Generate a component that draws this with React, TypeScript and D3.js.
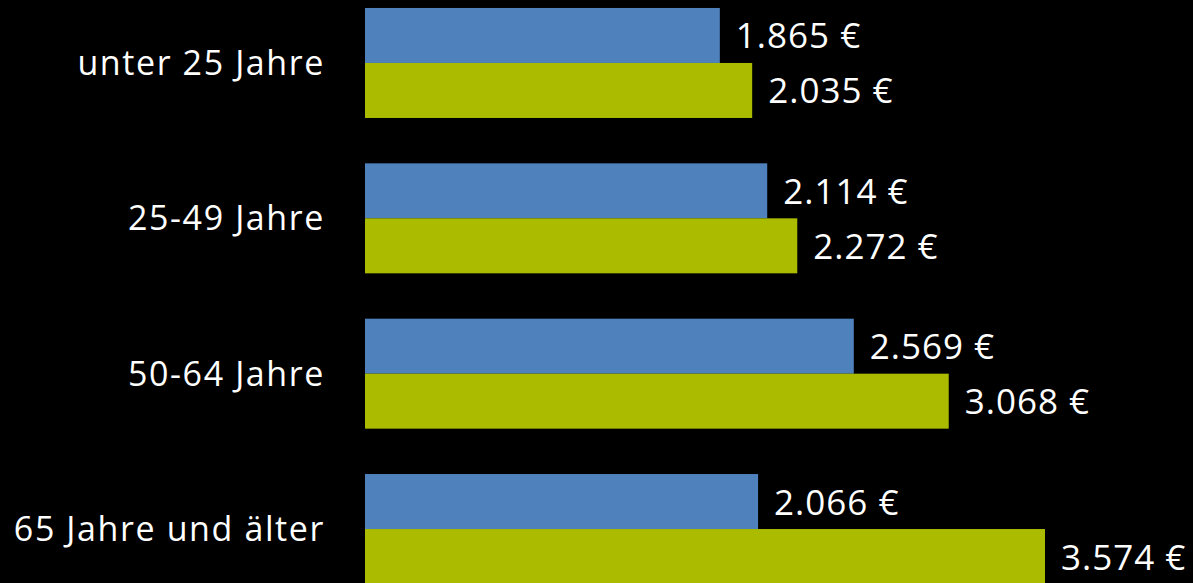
import React from 'react';
import * as d3 from 'd3';

const categories = ['unter 25 Jahre', '25-49 Jahre', '50-64 Jahre', '65 Jahre und älter'];
const seriesA = [1865, 2114, 2569, 2066];
const seriesB = [2035, 2272, 3068, 3574];
const seriesKeys = ['a', 'b'];

const W = 1193;
const H = 583;

export default function App() {
  const x = d3.scaleLinear().domain([0, 3574]).range([365, 1045]);
  const y = d3
    .scaleBand<string>()
    .domain(categories)
    .range([-14.7, 606.7])
    .paddingInner(0.292)
    .paddingOuter(0.146);
  const sub = d3.scaleBand<string>().domain(seriesKeys).range([0, y.bandwidth()]);
  const colors: Record<string, string> = { a: '#4F81BD', b: '#AABB00' };
  const fmt = (v: number) => d3.format(',')(v).replace(',', '.') + ' €';

  return (
    <div style={{ position: 'fixed', left: 0, top: 0, width: W, height: H, background: '#000' }}>
      <svg width={W} height={H} style={{ display: 'block', fontFamily: '"Open Sans", sans-serif' }}>
        {categories.map((cat, i) => {
          const y0 = y(cat) as number;
          const vals: Record<string, number> = { a: seriesA[i], b: seriesB[i] };
          return (
            <g key={cat}>
              <text
                x={325}
                y={y0 + y.bandwidth() / 2 + 12}
                textAnchor="end"
                fill="#fff"
                fontSize={34}
                letterSpacing={1.6}
              >
                {cat}
              </text>
              {seriesKeys.map((k) => {
                const by = y0 + (sub(k) as number);
                return (
                  <g key={k}>
                    <rect
                      x={x(0)}
                      y={by}
                      width={x(vals[k]) - x(0)}
                      height={sub.bandwidth()}
                      fill={colors[k]}
                    />
                    <text
                      x={x(vals[k]) + 16}
                      y={by + sub.bandwidth() / 2 + 13}
                      fill="#fff"
                      fontSize={35}
                      letterSpacing={1}
                    >
                      {fmt(vals[k])}
                    </text>
                  </g>
                );
              })}
            </g>
          );
        })}
      </svg>
    </div>
  );
}
